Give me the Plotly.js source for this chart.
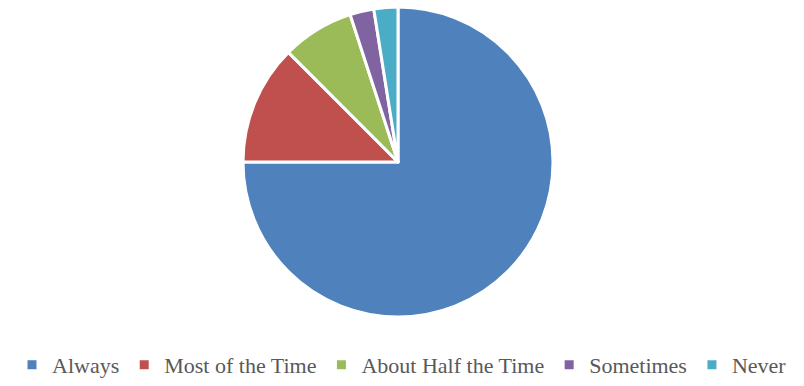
<!DOCTYPE html>
<html>
<head>
<meta charset="utf-8">
<script src="https://cdn.plot.ly/plotly-3.0.1.min.js"></script>
<style>html,body{margin:0;padding:0;background:#fff;}#chart{width:804px;height:386px;}</style>
</head>
<body>
<div id="chart"></div>
<script>
var categories = ["Always", "Most of the Time", "About Half the Time", "Sometimes", "Never"];
var values = [30, 5, 3, 1, 1];
var colors = ["#4F81BD", "#C0504D", "#9BBB59", "#8064A2", "#4BACC6"];

var data = [{
  type: "pie",
  labels: categories,
  values: values,
  sort: false,
  direction: "clockwise",
  rotation: 0,
  textinfo: "none",
  hoverinfo: "label+value+percent",
  marker: {colors: colors, line: {color: "#FFFFFF", width: 3}},
  domain: {x: [0, 1], y: [0, 1]}
}];

var layout = {
  width: 804,
  height: 386,
  margin: {l: 0, r: 8, t: 7, b: 69},
  paper_bgcolor: "#FFFFFF",
  showlegend: true,
  legend: {
    orientation: "h",
    x: 0.5,
    xanchor: "center",
    xref: "container",
    y: -0.008,
    yanchor: "bottom",
    yref: "container",
    font: {family: "Liberation Serif", size: 22, color: "#595959"},
    itemwidth: 30,
    tracegroupgap: 0,
    traceorder: "normal"
  }
};

Plotly.newPlot("chart", data, layout, {displayModeBar: false, staticPlot: true});
</script>
</body>
</html>
